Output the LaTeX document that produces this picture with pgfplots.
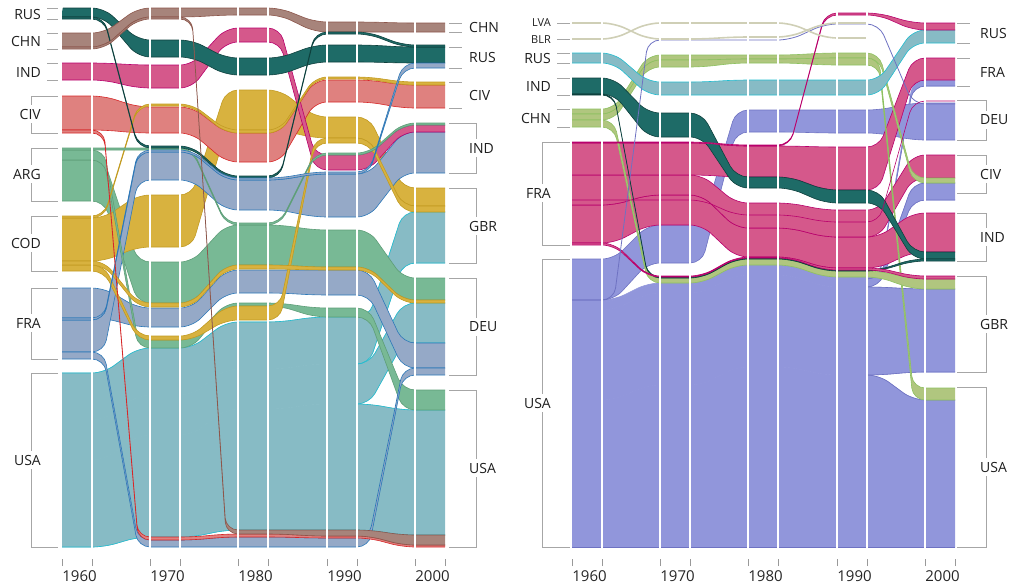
\documentclass[border=0pt]{standalone}
\usepackage{fontspec}
\setmainfont{Open Sans}
\usepackage{pgfplots}
\pgfplotsset{compat=1.18}

\definecolor{lTeal}{HTML}{87BBC5}\definecolor{lTealE}{HTML}{22BDD0}
\definecolor{dTeal}{HTML}{1E6B67}\definecolor{dTealE}{HTML}{0E403D}
\definecolor{brn}{HTML}{A7847B}\definecolor{brnE}{HTML}{8C564B}
\definecolor{pnk}{HTML}{D5588B}\definecolor{pnkE}{HTML}{B8006C}
\definecolor{sal}{HTML}{DF817F}\definecolor{salE}{HTML}{D62728}
\definecolor{grn}{HTML}{78B995}\definecolor{grnE}{HTML}{5E9E78}
\definecolor{ylw}{HTML}{D8B23F}\definecolor{ylwE}{HTML}{C29B22}
\definecolor{blg}{HTML}{95A9C7}\definecolor{blgE}{HTML}{2C78B8}
\definecolor{per}{HTML}{9196DB}\definecolor{perE}{HTML}{6E72C2}
\definecolor{lgr}{HTML}{B0C67F}\definecolor{lgrE}{HTML}{8DC160}
\definecolor{bei}{HTML}{CFCFB6}

\tikzset{
  band/.style={rounded corners=12pt, line width=0.6pt},
  ln/.style={rounded corners=12pt, line width=1pt},
  brk/.style={draw=black!35, line width=0.9pt},
  lab/.style={font=\fontsize{14}{16}\selectfont, text=black!88, fill=white, inner xsep=1pt, inner ysep=4pt},
  labs/.style={lab, font=\fontsize{11}{13}\selectfont},
}
\pgfplotsset{
  chart/.style={scale only axis, anchor=north west, width=383pt, height=559pt,
    ymin=0, ymax=559, y dir=reverse, clip mode=individual,
    axis line style={draw=none}, ytick=\empty,
    xtick pos=left, xticklabel pos=left, tick align=outside,
    major tick length=7pt, tick style={draw=black!40, line width=0.6pt},
    xticklabels={,,,,,,,,,},
    extra x tick labels={1960,1970,1980,1990,2000},
    extra x tick style={major tick length=0pt, tick label style={yshift=-8pt}},
    tick label style={font=\fontsize{15}{17}\selectfont, text=black!85},
  },
}

% x positions of the band corners (column edges, shifted by the corner radius)
\newcommand\setX[1]{\def\tmpx##1,##2,##3,##4,##5,##6,##7,##8,##9;{%
  \def\Xa{##1}\def\Xb{##2}\def\Xc{##3}\def\Xd{##4}\def\Xe{##5}\def\Xf{##6}\def\Xg{##7}\def\Xh{##8}\def\Xi{##9}}\tmpx#1;}
\def\getfive#1,#2,#3,#4,#5;{\def\Va{#1}\def\Vb{#2}\def\Vc{#3}\def\Vd{#4}\def\Ve{#5}}
% \flow{options}{tops at the five columns}{bottoms at the five columns}
\newcommand\flow[3]{%
  \def\fopts{#1}%
  \getfive#2;\let\Ta\Va\let\Tb\Vb\let\Tc\Vc\let\Td\Vd\let\Te\Ve
  \getfive#3;%
  \edef\flowcmd{\noexpand\addplot[\unexpanded\expandafter{\fopts}] coordinates {%
    (\Xa,\Ta) (\Xb,\Ta) (\Xc,\Tb) (\Xd,\Tb) (\Xe,\Tc) (\Xf,\Tc) (\Xg,\Td) (\Xh,\Td) (\Xi,\Te) (\Xj,\Te)
    (\Xj,\Ve) (\Xi,\Ve) (\Xh,\Vd) (\Xg,\Vd) (\Xf,\Vc) (\Xe,\Vc) (\Xd,\Vb) (\Xc,\Vb) (\Xb,\Va) (\Xa,\Va)};}%
  \flowcmd}
\newcommand\fline[2]{%
  \def\fopts{#1}\getfive#2;%
  \edef\flowcmd{\noexpand\addplot[\unexpanded\expandafter{\fopts}] coordinates {%
    (\Xa,\Va) (\Xb,\Va) (\Xc,\Vb) (\Xd,\Vb) (\Xe,\Vc) (\Xf,\Vc) (\Xg,\Vd) (\Xh,\Vd) (\Xi,\Ve) (\Xj,\Ve)};}%
  \flowcmd}
% edge of a split, from the last column to the end: \lastedge{options}{y at column 4}{y at column 5}
\newcommand\lastedge[3]{%
  \edef\flowcmd{\noexpand\addplot[\unexpanded{#1}] coordinates {(\Xs,#2) (\Xh,#2) (\Xi,#3) (\Xj,#3)};}\flowcmd}
\newcommand\brk[4]{\draw[brk] (axis cs:#2,#3) -- (axis cs:#1,#3) -- (axis cs:#1,#4) -- (axis cs:#2,#4);}
\newcommand\tk[3]{\draw[brk] (axis cs:#1,#3) -- (axis cs:#2,#3);}

\begin{document}
\begin{tikzpicture}
% ---------------- left chart ----------------
\begin{axis}[chart, at={(62pt,0pt)}, xmin=62, xmax=445,
  xtick={62,92,150,180,238,268,327,357,415,445},
  extra x ticks={79.5,167.5,255.5,344.5,432.5}]
\setX{30,104,138,192,226,280,315,369,403}\def\Xj{475}\def\Xs{357}
% USA
\flow{band, fill=lTeal, draw=lTeal}{460,435,409,404,410}{547,537,530,530,535}
\flow{band, fill=lTeal, draw=lTeal}{420,395,369,364,303}{460,435,409,404,343}
\flow{band, fill=lTeal, draw=lTeal}{373,348,322,317,212}{420,395,369,364,263}
\fline{ln, lTealE, line width=0.6pt}{373,348,322,317,212}
\fline{ln, lTealE, line width=0.6pt}{547,537,530,530,535}
\lastedge{ln, lTealE, line width=0.6pt}{364}{263}
\lastedge{ln, lTealE, line width=0.6pt}{364}{303}
\lastedge{ln, lTealE, line width=0.6pt}{404}{343}
\lastedge{ln, lTealE, line width=0.6pt}{404}{410}
% ARG, COD, FRA
\flow{band, fill=grn, draw=grnE}{160,262,225,230,278}{201,303,265,267,300}
\flow{band, fill=ylw, draw=ylwE}{218,195,90,117,188}{261,247,130,138,206}
\flow{band, fill=blg, draw=blgE}{288,308,270,270,343}{318,327,293,295,368}
\flow{band, fill=blg, draw=blgE}{320,152,180,174,132}{352,180,210,217,173}
% CIV, IND, RUS, CHN
\flow{band, fill=sal, draw=salE}{96,107,133,80,85}{130,133,162,102,108}
\flow{band, fill=pnk, draw=pnkE}{63,65,28,155,125}{80,88,42,170,132}
\flow{band, fill=dTeal, draw=dTealE}{8,40,58,45,47}{17,57,75,62,63}
\flow{band, fill=brn, draw=brnE}{33,8,8,22,23}{47,17,15,32,32}
% smaller flows
\flow{band, fill=grn, draw=grnE}{150,340,303,308,390}{160,348,306,317,410}
\flow{band, fill=ylw, draw=ylwE}{265,336,306,138,206}{271,340,320,143,212}
\flow{band, fill=blg, draw=blgE}{352,540,537,538,368}{359,547,547,547,375}
\flow{band, fill=ylw, draw=ylwE}{261,303,265,267,300}{265,307,269,270,303}
\flow{band, fill=ylw, draw=ylwE}{216,104,130,77,82}{218,106,133,79,85}
\flow{band, fill=grn, draw=grnE}{148,148,223,153,123}{150,150,225,155,125}
\flow{band, fill=dTeal, draw=dTealE}{17,146,176,32,45}{19,148,178,34,47}
\flow{band, fill=blg, draw=blgE}{318,150,178,172,63}{320,152,180,174,68}
\flow{band, fill=sal, draw=salE}{130,537,534,536,545}{133,540,537,538,547}
\flow{band, fill=brn, draw=brnE}{47,17,530,530,535}{49,19,534,536,545}
\pgfplotsinvokeforeach{92,150,180,238,268,327,357,415}{
  \addplot[white, line width=1.2pt] coordinates {(#1,2) (#1,551)};}
% labels
\tk{47}{58}{8}\tk{47}{58}{19}\node[lab, anchor=east] at (axis cs:42,14) {RUS};
\tk{47}{58}{33}\tk{47}{58}{49}\node[lab, anchor=east] at (axis cs:42,41) {CHN};
\tk{47}{58}{63}\tk{47}{58}{80}\node[lab, anchor=east] at (axis cs:42,72) {IND};
\brk{31}{58}{96}{133}\node[lab, anchor=east] at (axis cs:42,114) {CIV};
\brk{31}{58}{148}{201}\node[lab, anchor=east] at (axis cs:42,174) {ARG};
\brk{31}{58}{216}{271}\node[lab, anchor=east] at (axis cs:42,243) {COD};
\brk{31}{58}{288}{359}\node[lab, anchor=east] at (axis cs:42,323) {FRA};
\brk{31}{58}{373}{547}\node[lab, anchor=east] at (axis cs:42,460) {USA};
\tk{449}{462}{23}\tk{449}{462}{32}\node[lab, anchor=west] at (axis cs:468,27) {CHN};
\tk{449}{462}{47}\tk{449}{462}{68}\node[lab, anchor=west] at (axis cs:468,57) {RUS};
\tk{449}{462}{82}\tk{449}{462}{108}\node[lab, anchor=west] at (axis cs:468,95) {CIV};
\brk{476}{449}{123}{173}\node[lab, anchor=west] at (axis cs:468,148) {IND};
\brk{476}{449}{188}{263}\node[lab, anchor=west] at (axis cs:468,226) {GBR};
\brk{476}{449}{278}{375}\node[lab, anchor=west] at (axis cs:468,327) {DEU};
\brk{476}{449}{390}{547}\node[lab, anchor=west] at (axis cs:468,468) {USA};
\end{axis}
% ---------------- right chart ----------------
\begin{axis}[chart, at={(572pt,0pt)}, xmin=572, xmax=955,
  xtick={572,602,660,690,748,778,837,867,925,955},
  extra x ticks={589.5,677.5,765.5,854.5,942.5}]
\setX{540,614,648,702,736,790,825,879,913}\def\Xj{990}\def\Xs{867}
% USA
\flow{band, fill=per, draw=per}{400,385,367,375,400}{547,547,547,547,547}
\flow{band, fill=per, draw=per}{310,293,275,287,289}{400,385,367,375,372}
\flow{band, fill=per, draw=per}{302,285,267,279,183}{310,293,275,287,200}
\flow{band, fill=per, draw=per}{300,283,265,277,80}{302,285,267,279,86}
\fline{ln, perE, line width=0.7pt}{547,547,547,547,547}
\lastedge{ln, perE, line width=0.6pt}{279}{86}
\lastedge{ln, perE, line width=0.6pt}{279}{183}
\lastedge{ln, perE, line width=0.6pt}{287}{200}
\lastedge{ln, perE, line width=0.6pt}{287}{289}
\lastedge{ln, perE, line width=0.6pt}{375}{372}
\lastedge{ln, perE, line width=0.6pt}{375}{400}
\flow{band, fill=per, draw=perE}{259,225,110,110,103}{300,263,132,133,140}
% FRA
\flow{band, fill=pnk, draw=pnkE}{205,195,228,237,213}{243,225,257,268,252}
\flow{band, fill=pnk, draw=pnkE}{175,175,203,210,155}{205,195,228,237,178}
\flow{band, fill=pnk, draw=pnkE}{143,143,146,147,58}{175,175,177,190,80}
% CHN
\flow{band, fill=lgr, draw=lgrE}{109,55,55,53,178}{114,60,59,58,183}
\flow{band, fill=lgr, draw=lgrE}{114,60,59,58,388}{120,67,63,65,400}
\flow{band, fill=lgr, draw=lgrE}{120,278,259,271,279}{127,283,265,277,289}
% RUS, IND
\flow{band, fill=lTeal, draw=lTealE}{53,82,80,80,30}{63,95,95,95,43}
\flow{band, fill=dTeal, draw=dTealE}{78,113,177,190,252}{94,137,188,203,259}
\flow{band, fill=dTeal, draw=dTealE}{94,277,258,270,259}{95,278,259,271,261}
% thin flows
\flow{band, fill=pnk, draw=pnkE}{142,142,145,13,23}{143,143,146,15,30}
\flow{band, fill=pnk, draw=pnkE}{243,276,257,268,276}{245,277,258,270,279}
\fline{ln, perE, line width=0.8pt}{300,40,40,24,104}
\fline{ln, pnkE, line width=0.6pt}{200,200,215,222,101}
\addplot[ln, bei, line width=1.6pt] coordinates {(572,23) (614,23) (648,39) (702,39) (736,37) (790,37) (825,23) (867,23)};
\addplot[ln, bei, line width=1.6pt] coordinates {(572,39) (614,39) (648,23) (702,23) (736,23) (790,23) (825,38) (867,38)};
\pgfplotsinvokeforeach{602,660,690,748,778,837,867,925}{
  \addplot[white, line width=1.2pt] coordinates {(#1,2) (#1,551)};}
% labels
\tk{557}{570}{23}\node[labs, anchor=east] at (axis cs:552,23) {LVA};
\tk{557}{570}{39}\node[labs, anchor=east] at (axis cs:552,40) {BLR};
\tk{557}{570}{53}\tk{557}{570}{63}\node[lab, anchor=east] at (axis cs:552,58) {RUS};
\tk{557}{570}{78}\tk{557}{570}{95}\node[lab, anchor=east] at (axis cs:552,86) {IND};
\tk{557}{570}{109}\tk{557}{570}{127}\node[lab, anchor=east] at (axis cs:552,118) {CHN};
\brk{542}{570}{142}{245}\node[lab, anchor=east] at (axis cs:552,193) {FRA};
\brk{542}{570}{259}{547}\node[lab, anchor=east] at (axis cs:552,403) {USA};
\tk{957}{970}{23}\tk{957}{970}{43}\node[lab, anchor=west] at (axis cs:979,33) {RUS};
\tk{957}{970}{58}\tk{957}{970}{86}\node[lab, anchor=west] at (axis cs:979,72) {FRA};
\brk{986}{957}{100}{140}\node[lab, anchor=west] at (axis cs:979,120) {DEU};
\brk{986}{957}{155}{193}\node[lab, anchor=west] at (axis cs:979,174) {CIV};
\brk{986}{957}{213}{261}\node[lab, anchor=west] at (axis cs:979,237) {IND};
\brk{986}{957}{276}{372}\node[lab, anchor=west] at (axis cs:979,324) {GBR};
\brk{986}{957}{387}{547}\node[lab, anchor=west] at (axis cs:979,467) {USA};
\end{axis}
\pgfresetboundingbox
\path[use as bounding box] (0pt,0pt) rectangle (1010pt,-586pt);
\end{tikzpicture}
\end{document}
